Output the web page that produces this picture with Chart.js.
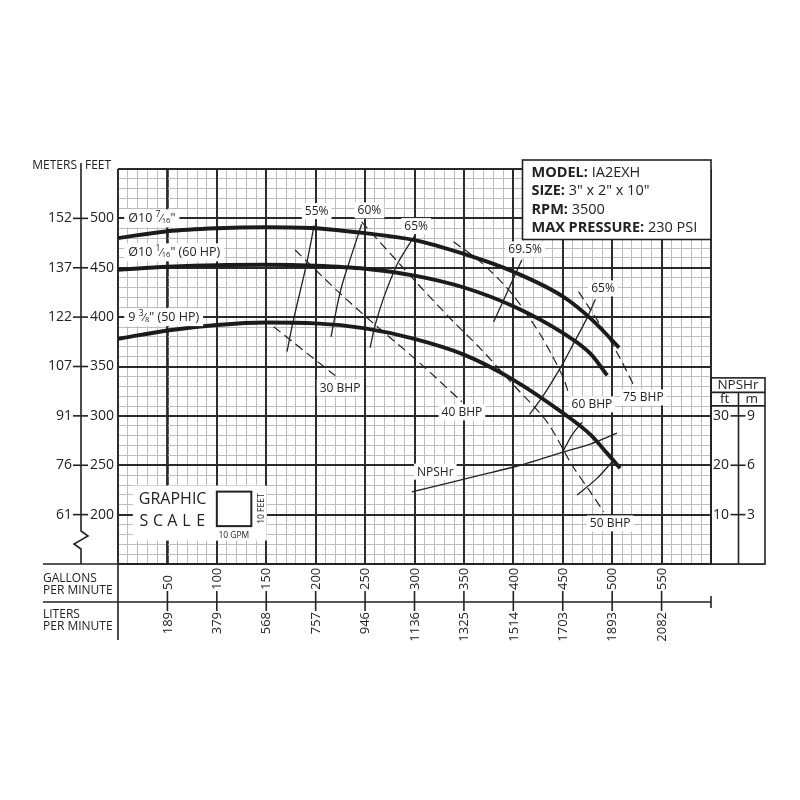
<!DOCTYPE html>
<html>
<head>
<meta charset="utf-8">
<title>IA2EXH pump curve</title>
<script src="https://cdn.jsdelivr.net/npm/chart.js@4.4.0/dist/chart.umd.min.js"></script>
<style>
  html, body { margin: 0; padding: 0; background: #fff; }
  #wrap { width: 800px; height: 800px; }
</style>
</head>
<body>
<div id="wrap"><canvas id="pump-curve" width="800" height="800"></canvas></div>
<script>
// axis labels
const gpm_ticks = [50, 100, 150, 200, 250, 300, 350, 400, 450, 500, 550];
const lpm_labels = ['189', '379', '568', '757', '946', '1136', '1325', '1514', '1703', '1893', '2082'];
const feet_ticks = [500, 450, 400, 350, 300, 250, 200];
const meter_labels = ['152', '137', '122', '107', '91', '76', '61'];
const npsh_ft_ticks = [30, 20, 10];
const npsh_m_labels = ['9', '6', '3'];

// head curves (gpm -> feet)
const d1_gpm = [0, 50, 100, 150, 200, 250, 300, 350, 400, 450, 480, 507];
const d1_ft  = [480, 487, 490, 491, 490, 485, 478, 464, 446, 421, 397, 369];
const d2_gpm = [0, 50, 100, 150, 200, 250, 300, 350, 400, 450, 478, 495];
const d2_ft  = [448, 451, 452.7, 453, 452, 449, 442, 430, 411, 384, 363, 341];
const d3_gpm = [0, 50, 100, 150, 200, 250, 300, 350, 400, 450, 478, 495, 508];
const d3_ft  = [378, 386.5, 392, 394.5, 393.7, 388.6, 378, 362, 336.5, 303, 281, 262, 247];

// efficiency lines
const e55_gpm = [198.5, 191, 177.5, 171];
const e55_ft  = [493, 455, 397, 365];
const e60_gpm = [246.5, 236, 226, 219, 215.5];
const e60_ft  = [494, 462, 430, 398, 380];
const e65_gpm = [300.7, 291, 282.1, 268.6, 260.2, 255.1];
const e65_ft  = [483, 468, 452.7, 419, 392, 369];
const e695_gpm = [408.7, 380];
const e695_ft  = [458, 395];
const e65r_gpm = [483, 474.5, 461, 449.2, 430.6, 416.4];
const e65r_ft  = [418, 399, 373.4, 351.4, 321, 301.5];
const e60r_gpm = [449.2, 459.3, 469.4];
const e60r_ft  = [262, 280.6, 293.4];
const e55r_gpm = [464.4, 484.6, 501.4];
const e55r_ft  = [219.8, 236.7, 255.2];

// brake horsepower lines
const b30_gpm = [157.5, 219.7];
const b30_ft  = [390.3, 340.8];
const b40_gpm = [179.2, 224.7, 258.5, 305.7, 347.9];
const b40_ft  = [468, 424, 393.7, 353.2, 314.3];
const b50_gpm = [246.5, 305.7, 339.4, 366.5, 400.2, 434, 459.3, 477.8, 491.3];
const b50_ft  = [496.5, 431, 395.4, 368.4, 331.2, 294, 250.2, 223.2, 203];
const b60_gpm = [339.4, 366.5, 396.8, 425.5, 439, 450.8, 455.9];
const b60_ft  = [476.4, 456.2, 425.8, 385.3, 361.6, 338, 322.8];
const b75_gpm = [466, 494.7, 508.2, 523.4];
const b75_ft  = [425.8, 381.8, 358, 327.8];

// NPSHr (ft)
const npsh_gpm = [297.3, 366.5, 407, 449.2, 477.8, 504.8];
const npsh_ft  = [14.6, 18.0, 20.0, 22.6, 24.3, 26.5];

const FONT = '"Open Sans", "DejaVu Sans", sans-serif';
const INK = '#222';

function pts(xs, ys){
    return xs.map(function(x, i){ return {x: x, y: ys[i]}; });
}

function headSet(xs, ys){
    return {data: pts(xs, ys), showLine: true, borderColor: '#1b1b1b', borderWidth: 3.9,
        pointRadius: 0, cubicInterpolationMode: 'monotone', fill: false};
}

function thinSet(xs, ys){
    return {data: pts(xs, ys), showLine: true, borderColor: '#222', borderWidth: 1.3,
        pointRadius: 0, tension: 0.35, fill: false};
}

function dashSet(xs, ys){
    return {data: pts(xs, ys), showLine: true, borderColor: '#222', borderWidth: 1.2,
        borderDash: [9, 5], pointRadius: 0, tension: 0.3, fill: false};
}

function isMajor(v){ return Math.round(v) % 50 === 0; }

// labels drawn on the plot (text, gpm, feet)
const plotNotes = [
    ['55%', 201, 507.4], ['60%', 254.4, 508.1], ['65%', 301.7, 492.2],
    ['69.5%', 412, 468.6], ['65%', 490.7, 429.1],
    ['30 BHP', 224.7, 328.6], ['40 BHP', 348, 303.6], ['50 BHP', 498, 191.1],
    ['60 BHP', 479.5, 311.6], ['75 BHP', 531.5, 318.7], ['NPSHr', 321, 243.5]
];

// impeller labels: pieces of [text, size, raise]
const impellerNotes = [
    {gpm: 10.4, ft: 500, parts: [['Ø10 ', 12.5, 0], ['7', 8.5, -4], ['⁄', 11, 0], ['16', 7.5, 2], ['"', 12.5, 0]]},
    {gpm: 10.4, ft: 465.6, parts: [['Ø10 ', 12.5, 0], ['1', 8.5, -4], ['⁄', 11, 0], ['16', 7.5, 2], ['" (60 HP)', 12.5, 0]]},
    {gpm: 10.4, ft: 400, parts: [['9 ', 12.5, 0], ['3', 8.5, -4], ['⁄', 11, 0], ['8', 7.5, 2], ['" (50 HP)', 12.5, 0]]}
];

function partsWidth(ctx, parts){
    let w = 0;
    parts.forEach(function(p){
        ctx.font = p[1] + 'px ' + FONT;
        w += ctx.measureText(p[0]).width;
    });
    return w;
}

const gridFix = {
    id: 'gridFix',
    beforeDatasetsDraw(chart){
        // redraw the heavy lines on top of the light ones
        const {ctx, chartArea: a, scales: {x, y}} = chart;
        ctx.save();
        ctx.strokeStyle = '#2a2a2a';
        ctx.lineWidth = 1.8;
        ctx.beginPath();
        for(let v = 0; v <= 600; v += 50){
            const px = Math.round(x.getPixelForValue(v));
            ctx.moveTo(px, a.top); ctx.lineTo(px, a.bottom);
        }
        for(let v = 150; v <= 550; v += 50){
            const py = Math.round(y.getPixelForValue(v));
            ctx.moveTo(a.left, py); ctx.lineTo(a.right, py);
        }
        ctx.stroke();
        ctx.restore();
    }
};

const notes = {
    id: 'notes',
    afterDatasetsDraw(chart){
        const {ctx, scales: {x, y}} = chart;
        ctx.save();
        ctx.textBaseline = 'middle';
        ctx.font = '12px ' + FONT;
        plotNotes.forEach(function(n){
            const px = x.getPixelForValue(n[1]);
            const py = y.getPixelForValue(n[2]);
            const w = ctx.measureText(n[0]).width;
            ctx.fillStyle = '#fff';
            ctx.fillRect(px - w / 2 - 3, py - 8, w + 6, 16);
            ctx.fillStyle = INK;
            ctx.textAlign = 'center';
            ctx.fillText(n[0], px, py + 0.5);
        });

        ctx.textAlign = 'left';
        impellerNotes.forEach(function(n){
            let px = x.getPixelForValue(n.gpm);
            const py = y.getPixelForValue(n.ft);
            const w = partsWidth(ctx, n.parts);
            ctx.fillStyle = '#fff';
            ctx.fillRect(px - 4, py - 9, w + 8, 18);
            ctx.fillStyle = INK;
            n.parts.forEach(function(p){
                ctx.font = p[1] + 'px ' + FONT;
                ctx.fillText(p[0], px, py + 0.5 + p[2]);
                px += ctx.measureText(p[0]).width;
            });
        });
        ctx.restore();
    }
};

const frame = {
    id: 'frame',
    afterDraw(chart){
        const {ctx, chartArea: a, scales: {x, y, yN}} = chart;
        ctx.save();
        ctx.strokeStyle = INK;
        ctx.fillStyle = INK;
        ctx.lineWidth = 1.6;
        ctx.textBaseline = 'middle';

        // left axis: meters | feet
        const ax = a.left - 37;
        ctx.beginPath();
        ctx.moveTo(ax, a.top - 6);
        ctx.lineTo(ax, a.bottom - 33);
        ctx.lineTo(ax + 7, a.bottom - 28);
        ctx.lineTo(ax - 7, a.bottom - 20);
        ctx.lineTo(ax, a.bottom - 15);
        ctx.lineTo(ax, a.bottom);
        ctx.stroke();
        ctx.font = '12px ' + FONT;
        ctx.textAlign = 'right';
        ctx.fillText('METERS', ax - 4, a.top - 3);
        ctx.textAlign = 'left';
        ctx.fillText('FEET', ax + 4, a.top - 3);
        ctx.font = '14px ' + FONT;
        feet_ticks.forEach(function(v, i){
            const py = y.getPixelForValue(v);
            ctx.beginPath();
            ctx.moveTo(ax - 8, py); ctx.lineTo(ax + 7, py);
            ctx.stroke();
            ctx.textAlign = 'right';
            ctx.fillText(meter_labels[i], ax - 9, py);
            ctx.textAlign = 'left';
            ctx.fillText(String(v), ax + 9, py);
        });

        // bottom axes: gallons and liters per minute
        const lpmY = a.bottom + 38;
        ctx.beginPath();
        ctx.moveTo(43, a.bottom); ctx.lineTo(a.right + 54, a.bottom);
        ctx.moveTo(43, lpmY); ctx.lineTo(a.right, lpmY);
        ctx.moveTo(a.right, lpmY - 6); ctx.lineTo(a.right, lpmY + 6);
        ctx.moveTo(a.left, a.bottom); ctx.lineTo(a.left, a.bottom + 76);
        ctx.stroke();
        ctx.font = '12px ' + FONT;
        ctx.textAlign = 'left';
        ctx.fillText('GALLONS', 43, a.bottom + 15);
        ctx.fillText('PER MINUTE', 43, a.bottom + 27);
        ctx.fillText('LITERS', 43, lpmY + 13);
        ctx.fillText('PER MINUTE', 43, lpmY + 25);
        ctx.font = '13px ' + FONT;
        gpm_ticks.forEach(function(v, i){
            const px = x.getPixelForValue(v);
            ctx.beginPath();
            ctx.moveTo(px, lpmY - 11); ctx.lineTo(px, lpmY + 9);
            ctx.stroke();
            ctx.save();
            ctx.translate(px, lpmY - 12);
            ctx.rotate(-Math.PI / 2);
            ctx.textAlign = 'left';
            ctx.fillText(String(v), 0, 0.5);
            ctx.restore();
            ctx.save();
            ctx.translate(px, lpmY + 10);
            ctx.rotate(-Math.PI / 2);
            ctx.textAlign = 'right';
            ctx.fillText(lpm_labels[i], 0, 0.5);
            ctx.restore();
        });

        // NPSHr panel
        const pTop = yN.getPixelForValue(npsh_ft_ticks[0]) - 38;
        const pRight = a.right + 54;
        const pMid = a.right + 27.5;
        ctx.fillStyle = '#fff';
        ctx.fillRect(a.right + 1, pTop, pRight - a.right - 1, a.bottom - pTop);
        ctx.strokeRect(a.right, pTop, pRight - a.right, a.bottom - pTop);
        ctx.beginPath();
        ctx.moveTo(a.right, pTop + 14.5); ctx.lineTo(pRight, pTop + 14.5);
        ctx.moveTo(a.right, pTop + 28); ctx.lineTo(pRight, pTop + 28);
        ctx.moveTo(pMid, pTop + 14.5); ctx.lineTo(pMid, a.bottom);
        ctx.stroke();
        ctx.fillStyle = INK;
        ctx.font = '13.5px ' + FONT;
        ctx.textAlign = 'center';
        ctx.fillText('NPSHr', (a.right + pRight) / 2, pTop + 7.5);
        ctx.fillText('ft', (a.right + pMid) / 2, pTop + 21.5);
        ctx.fillText('m', (pMid + pRight) / 2, pTop + 21.5);
        ctx.font = '14px ' + FONT;
        npsh_ft_ticks.forEach(function(v, i){
            const py = yN.getPixelForValue(v);
            ctx.beginPath();
            ctx.moveTo(pMid - 8, py); ctx.lineTo(pMid + 7, py);
            ctx.stroke();
            ctx.textAlign = 'right';
            ctx.fillText(String(v), pMid - 9.5, py);
            ctx.textAlign = 'left';
            ctx.fillText(npsh_m_labels[i], pMid + 8.5, py);
        });

        // graphic scale
        const sx = x.getPixelForValue(100);
        const sy = y.getPixelForValue(200);
        ctx.fillStyle = '#fff';
        ctx.fillRect(sx - 84, sy - 29, 134, 55);
        ctx.fillStyle = INK;
        ctx.font = '16px ' + FONT;
        ctx.textAlign = 'left';
        ctx.fillText('GRAPHIC', sx - 78, sy - 15);
        const letters = ['S', 'C', 'A', 'L', 'E'];
        letters.forEach(function(c, i){
            ctx.textAlign = 'center';
            ctx.fillText(c, sx - 73 + i * 14.2, sy + 6.5);
        });
        ctx.lineWidth = 2;
        ctx.strokeRect(sx, sy - 23, 34.5, 34.5);
        ctx.font = '8.5px ' + FONT;
        ctx.textAlign = 'center';
        ctx.fillText('10 GPM', sx + 17, sy + 21);
        ctx.save();
        ctx.translate(sx + 44, sy - 6);
        ctx.rotate(-Math.PI / 2);
        ctx.fillText('10 FEET', 0, 0.5);
        ctx.restore();

        // model box
        const bx = a.right - 188.5;
        const by = a.top - 9;
        ctx.fillStyle = '#fff';
        ctx.fillRect(bx, by, 188.5, 79.5);
        ctx.lineWidth = 1.6;
        ctx.strokeRect(bx, by, 188.5, 79.5);
        const info = [['MODEL:', ' IA2EXH'], ['SIZE:', ' 3" x 2" x 10"'], ['RPM:', ' 3500'], ['MAX PRESSURE:', ' 230 PSI']];
        ctx.textAlign = 'left';
        info.forEach(function(r, i){
            const ty = by + 13 + i * 18.2;
            ctx.fillStyle = INK;
            ctx.font = 'bold 14.5px ' + FONT;
            ctx.fillText(r[0], bx + 9, ty);
            const w = ctx.measureText(r[0]).width;
            ctx.font = '14.5px ' + FONT;
            ctx.fillText(r[1], bx + 9 + w, ty);
        });
        ctx.restore();
    }
};

const config = {
    type: 'scatter',
    data: {
        datasets: [
            headSet(d1_gpm, d1_ft),
            headSet(d2_gpm, d2_ft),
            headSet(d3_gpm, d3_ft),
            thinSet(e55_gpm, e55_ft),
            thinSet(e60_gpm, e60_ft),
            thinSet(e65_gpm, e65_ft),
            thinSet(e695_gpm, e695_ft),
            thinSet(e65r_gpm, e65r_ft),
            thinSet(e60r_gpm, e60r_ft),
            thinSet(e55r_gpm, e55r_ft),
            dashSet(b30_gpm, b30_ft),
            dashSet(b40_gpm, b40_ft),
            dashSet(b50_gpm, b50_ft),
            dashSet(b60_gpm, b60_ft),
            dashSet(b75_gpm, b75_ft),
            Object.assign(thinSet(npsh_gpm, npsh_ft), {yAxisID: 'yN', tension: 0.25})
        ]
    },
    options: {
        responsive: false,
        animation: false,
        devicePixelRatio: 1,
        layout: {
            padding: {left: 118, right: 89, top: 169, bottom: 236}
        },
        plugins: {
            legend: { display: false },
            tooltip: { enabled: false }
        },
        scales: {
            x: {
                type: 'linear',
                min: 0,
                max: 600,
                ticks: { display: false, stepSize: 10, autoSkip: false },
                border: { display: false },
                grid: {
                    drawTicks: false,
                    color: function(c){ return isMajor(c.tick.value) ? '#2a2a2a' : '#bdbdbd'; },
                    lineWidth: function(c){ return isMajor(c.tick.value) ? 1.8 : 1; }
                }
            },
            y: {
                type: 'linear',
                min: 150,
                max: 550,
                ticks: { display: false, stepSize: 10, autoSkip: false },
                border: { display: false },
                grid: {
                    drawTicks: false,
                    color: function(c){ return isMajor(c.tick.value) ? '#2a2a2a' : '#bdbdbd'; },
                    lineWidth: function(c){ return isMajor(c.tick.value) ? 1.8 : 1; }
                }
            },
            yN: {
                type: 'linear',
                display: false,
                min: 0,
                max: 80
            }
        }
    },
    plugins: [gridFix, notes, frame]
};

new Chart(document.getElementById('pump-curve'), config);
</script>
</body>
</html>
